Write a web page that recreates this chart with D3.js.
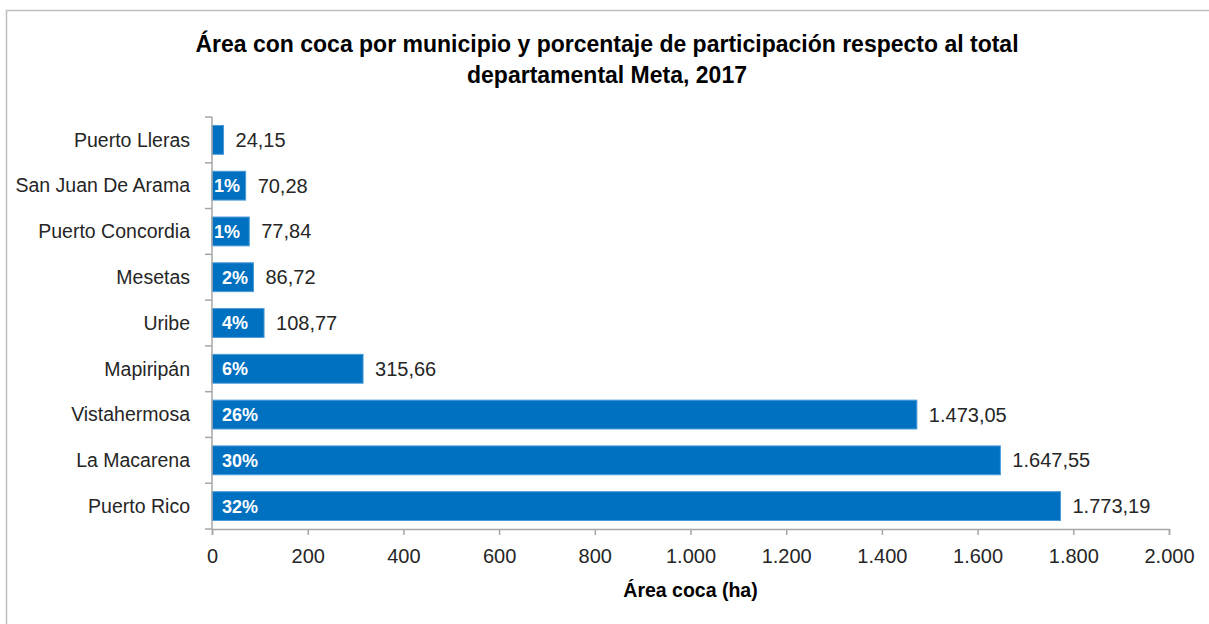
<!DOCTYPE html>
<html>
<head>
<meta charset="utf-8">
<script src="https://cdn.jsdelivr.net/npm/d3@7"></script>
<style>
  html, body { margin: 0; padding: 0; background: #fff; }
  svg { display: block; font-family: "Liberation Sans", Arial, sans-serif; }
</style>
</head>
<body>
<svg id="chart" width="1209" height="624"></svg>
<script>
// Data (top to bottom as displayed)
const municipios = ["Puerto Lleras", "San Juan De Arama", "Puerto Concordia", "Mesetas", "Uribe",
                    "Mapiripán", "Vistahermosa", "La Macarena", "Puerto Rico"];
const areaHa = [24.15, 70.28, 77.84, 86.72, 108.77, 315.66, 1473.05, 1647.55, 1773.19];
const participacion = ["", "1%", "1%", "2%", "4%", "6%", "26%", "30%", "32%"];
const xTicks = [0, 200, 400, 600, 800, 1000, 1200, 1400, 1600, 1800, 2000];
const titleLines = ["Área con coca por municipio y porcentaje de participación respecto al total",
                    "departamental Meta, 2017"];
const xAxisTitle = "Área coca (ha)";

(function () {
const svg = d3.select("#chart");
const W = 1209, H = 624;

// Outer frame (top and left edges visible)
svg.append("rect").attr("x", 6.5).attr("y", 10.5).attr("width", W + 10).attr("height", H + 10)
  .attr("fill", "#fff").attr("stroke", "#BFBFBF").attr("stroke-width", 1.5);

const pL = 212, pR = 1169, pT = 117, pB = 529;

const x = d3.scaleLinear().domain([0, 2000]).range([pL, pR]);
const y = d3.scaleBand().domain(municipios).range([pT, pB]).paddingInner(0.37).paddingOuter(0.185);

const locale = d3.formatLocale({decimal: ",", thousands: ".", grouping: [3], currency: ["", ""]});
const fmtTick = locale.format(",.0f");
const fmtVal = locale.format(",.2f");

// Title
const title = svg.append("text").attr("text-anchor", "middle").attr("font-weight", "bold")
  .attr("font-size", 23).attr("fill", "#000");
titleLines.forEach((t, i) => {
  title.append("tspan").attr("x", 607).attr("y", 52 + i * 31).text(t);
});

// Bars
svg.append("g").selectAll("rect").data(municipios).join("rect")
  .attr("x", x(0))
  .attr("y", d => y(d))
  .attr("width", (d, i) => x(areaHa[i]) - x(0))
  .attr("height", y.bandwidth())
  .attr("fill", "#0070C0")
  .attr("stroke", "#4A9AD8").attr("stroke-width", 1);

// X axis
const gx = svg.append("g").attr("transform", `translate(0,${pB})`)
  .call(d3.axisBottom(x).tickValues(xTicks).tickFormat(fmtTick).tickSize(6).tickPadding(14).tickSizeOuter(6));
gx.select(".domain").attr("stroke", "#A6A6A6").attr("stroke-width", 1.5);
gx.selectAll(".tick line").attr("stroke", "#A6A6A6").attr("stroke-width", 1.5);
gx.selectAll(".tick text").attr("font-size", 20).attr("fill", "#262626")
  .attr("font-family", "Liberation Sans, Arial, sans-serif");

// Y axis line and category boundary ticks
const gy = svg.append("g");
gy.append("line").attr("x1", pL).attr("x2", pL).attr("y1", pT).attr("y2", pB)
  .attr("stroke", "#A6A6A6").attr("stroke-width", 1.5);
const bounds = d3.range(municipios.length + 1).map(i => pT + i * (pB - pT) / municipios.length);
gy.selectAll("line.tk").data(bounds).join("line").attr("class", "tk")
  .attr("x1", pL - 7).attr("x2", pL).attr("y1", d => d).attr("y2", d => d)
  .attr("stroke", "#A6A6A6").attr("stroke-width", 1.5);

// Category labels
svg.append("g").selectAll("text").data(municipios).join("text")
  .attr("x", 190).attr("y", d => y(d) + y.bandwidth() / 2)
  .attr("dy", "0.35em").attr("text-anchor", "end")
  .attr("font-size", 19.5).attr("fill", "#262626").text(d => d);

// Value labels
svg.append("g").selectAll("text").data(municipios).join("text")
  .attr("x", (d, i) => x(areaHa[i]) + 12).attr("y", d => y(d) + y.bandwidth() / 2)
  .attr("dy", "0.35em").attr("font-size", 20).attr("fill", "#262626")
  .text((d, i) => fmtVal(areaHa[i]));

// Percentage labels (inside base)
svg.append("g").selectAll("text").data(municipios).join("text")
  .attr("x", (d, i) => participacion[i] === "1%" ? x(0) + 2 : x(0) + 10)
  .attr("y", d => y(d) + y.bandwidth() / 2)
  .attr("dy", "0.36em").attr("font-size", 18).attr("font-weight", "bold").attr("fill", "#fff")
  .text((d, i) => participacion[i]);

// X axis title
svg.append("text").attr("x", (pL + pR) / 2).attr("y", 597).attr("text-anchor", "middle")
  .attr("font-size", 19.5).attr("font-weight", "bold").attr("fill", "#000").text(xAxisTitle);
})();
</script>
</body>
</html>
